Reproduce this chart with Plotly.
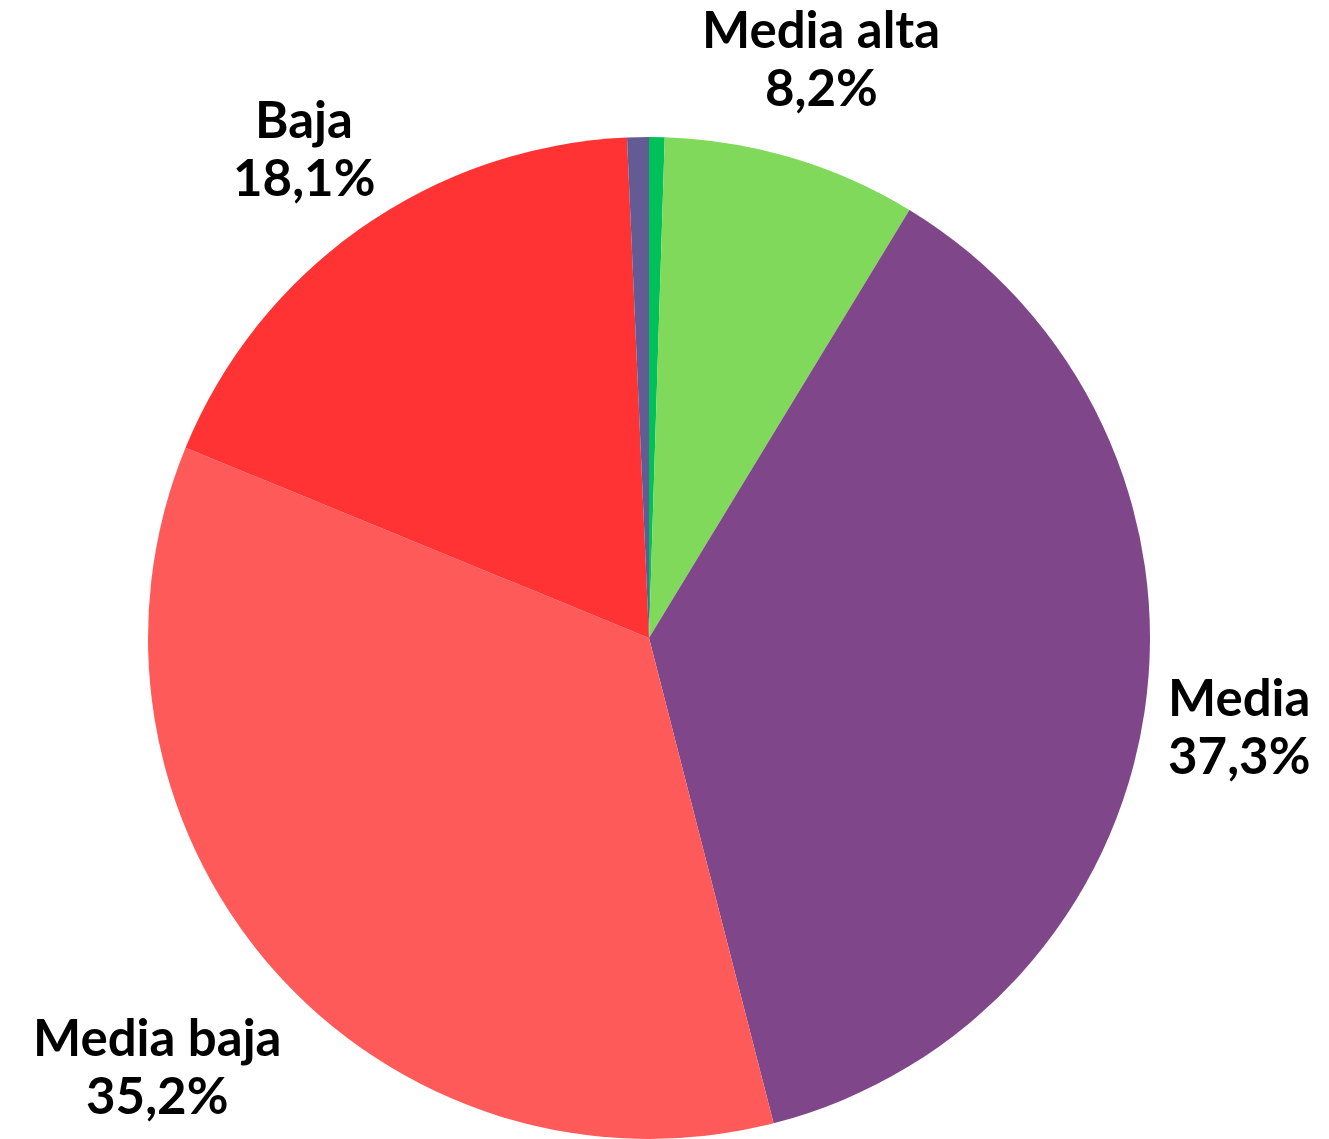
import math
import plotly.graph_objects as go

labels = ["Alta", "Media alta", "Media", "Media baja", "Baja", "Sin dato"]
values = [0.5, 8.2, 37.3, 35.2, 18.1, 0.7]
shown = [False, True, True, True, True, False]
colors = ["#00c05a", "#80d95a", "#7f4789", "#ff5a5a", "#ff3333", "#635c94"]

# page body adds an 8px offset; compensate so the figure fills the 1329x1139 view
W, H = 1321, 1131
ML, MT, MB = 140, 129, 0
D = 1002  # plot area size (square)
MR = W - ML - D
R = D / 2
FS = 51
LINE = 58
GAP = 26

fig = go.Figure(go.Pie(
    labels=labels, values=values, sort=False, direction="clockwise", rotation=0,
    marker=dict(colors=colors, line=dict(width=0)),
    textinfo="none", hoverinfo="skip", showlegend=False,
))

total = sum(values)
cum = 0.0
annotations = []
for lab, v, s in zip(labels, values, shown):
    mid = (cum + v / 2) / total * 2 * math.pi
    cum += v
    if not s:
        continue
    pct = f"{v:.1f}".replace(".", ",") + "%"
    lines = [lab, pct]
    w = max(len(l) for l in lines) * 0.5 * FS
    h = (LINE + FS) * 0.8
    sx, cy = math.sin(mid), math.cos(mid)
    ext = abs(sx) * w / 2 + abs(cy) * h / 2
    dist = R + GAP + ext
    cxp = dist * sx
    cyp = dist * cy
    for i, line in enumerate(lines):
        off = (i - (len(lines) - 1) / 2) * LINE
        annotations.append(dict(
            x=0.5 + cxp / D, y=0.5 + (cyp - off) / D, xref="paper", yref="paper",
            text=line, showarrow=False, xanchor="center", yanchor="middle",
            align="center", font=dict(family="Lato", size=FS, color="#000000", weight="bold"),
        ))

fig.update_layout(
    width=W, height=H, margin=dict(l=ML, r=MR, t=MT, b=MB),
    paper_bgcolor="white", plot_bgcolor="white",
    annotations=annotations,
    font=dict(family="Lato"),
)
fig.write_html("out.html")
